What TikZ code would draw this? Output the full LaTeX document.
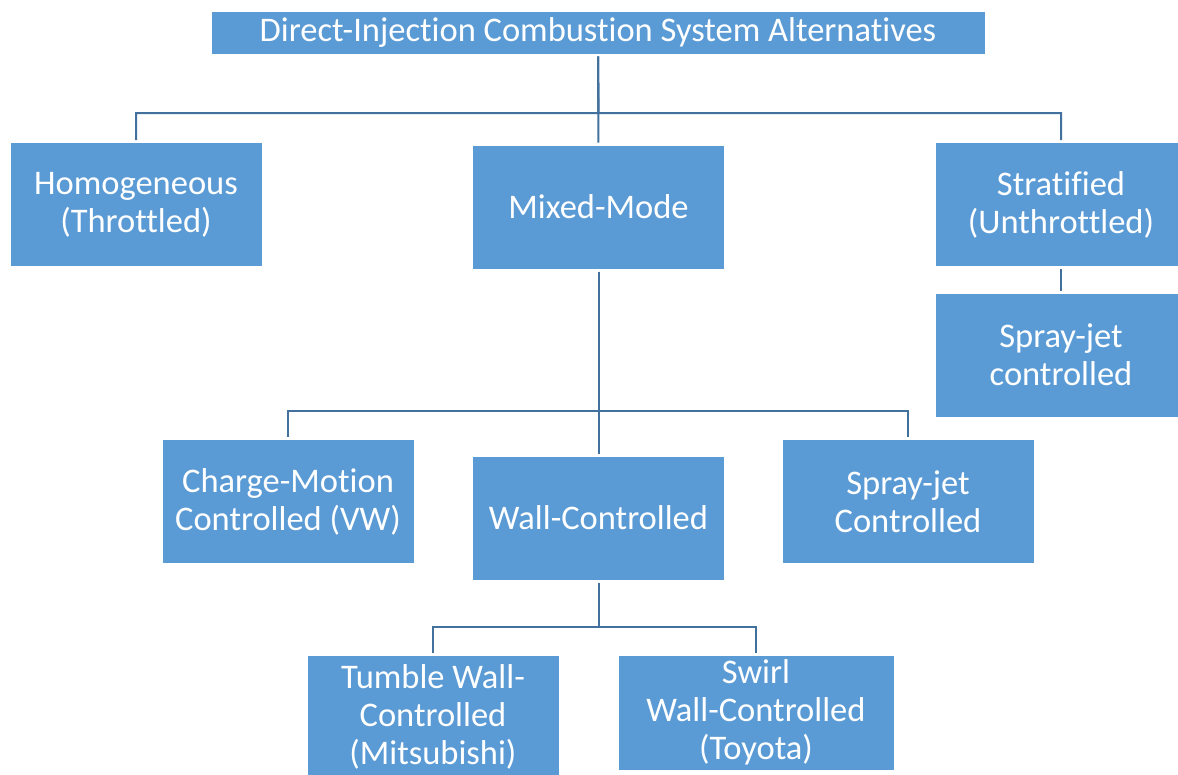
\documentclass[tikz,border=0pt]{standalone}
\usepackage{fontspec}
\setmainfont{Carlito}[Ligatures={NoCommon}]
\usepackage{xcolor}
\usepackage{tikz}
\usetikzlibrary{positioning, calc}

\definecolor{boxblue}{HTML}{5B9BD5}
\definecolor{linkblue}{HTML}{41719C}

\begin{document}
\begin{tikzpicture}[x=1pt, y=-1pt, line join=miter,
    cat/.style={fill=boxblue, draw=white, line width=1pt, text=white, align=center,
        inner sep=0pt, font=\fontsize{34.5}{38}\selectfont,
        minimum width=252pt, minimum height=124pt},
    link/.style={draw=linkblue, line width=2pt, shorten <=2pt, shorten >=2pt}]

    % Frame
    \useasboundingbox (0,0) rectangle (1178,774);

    % Top level
    \node[cat, minimum width=774pt, minimum height=43pt] (title) at (598,32.5)
        {Direct-Injection Combustion System Alternatives};

    % Modes
    \node[cat] (homog) at (136,204.5) {Homogeneous\\(Throttled)};
    \node[cat] (mixed) at (598.5,207) {Mixed-Mode};
    \node[cat] (strat) at (1061,204.5) {Stratified\\(Unthrottled)};
    \node[cat] (stratjet) at (1061,355) {Spray-jet\\controlled};

    % Mixed-mode variants
    \node[cat] (charge) at (288,501.5) {Charge-Motion\\Controlled (VW)};
    \node[cat] (wall) at (598.5,518) {Wall-Controlled};
    \node[cat] (spray) at (908,501.5) {Spray-jet\\Controlled};

    % Wall-controlled variants
    \node[cat] (tumble) at (433,717) {Tumble Wall-\\Controlled\\(Mitsubishi)};
    \node[cat, minimum width=276pt, minimum height=115pt] (swirl) at (756,712.5)
        {Swirl\\Wall-Controlled\\(Toyota)};

    % Bus points
    \coordinate (busA) at (598.5,113);
    \coordinate (busB) at (598.5,411);
    \coordinate (busC) at (598.5,627);

    % Connectors
    \draw[link] (title.south) -- (mixed.north);
    \draw[link] (title.south) -- (busA) -| (homog.north);
    \draw[link] (title.south) -- (busA) -| (strat.north);
    \draw[link] (strat.south) -- (stratjet.north);

    \draw[link] (mixed.south) -- (wall.north);
    \draw[link] (mixed.south) -- (busB) -| (charge.north);
    \draw[link] (mixed.south) -- (busB) -| (spray.north);

    \draw[link] (wall.south) -- (busC) -| (tumble.north);
    \draw[link] (wall.south) -- (busC) -| (swirl.north);

\end{tikzpicture}
\end{document}
